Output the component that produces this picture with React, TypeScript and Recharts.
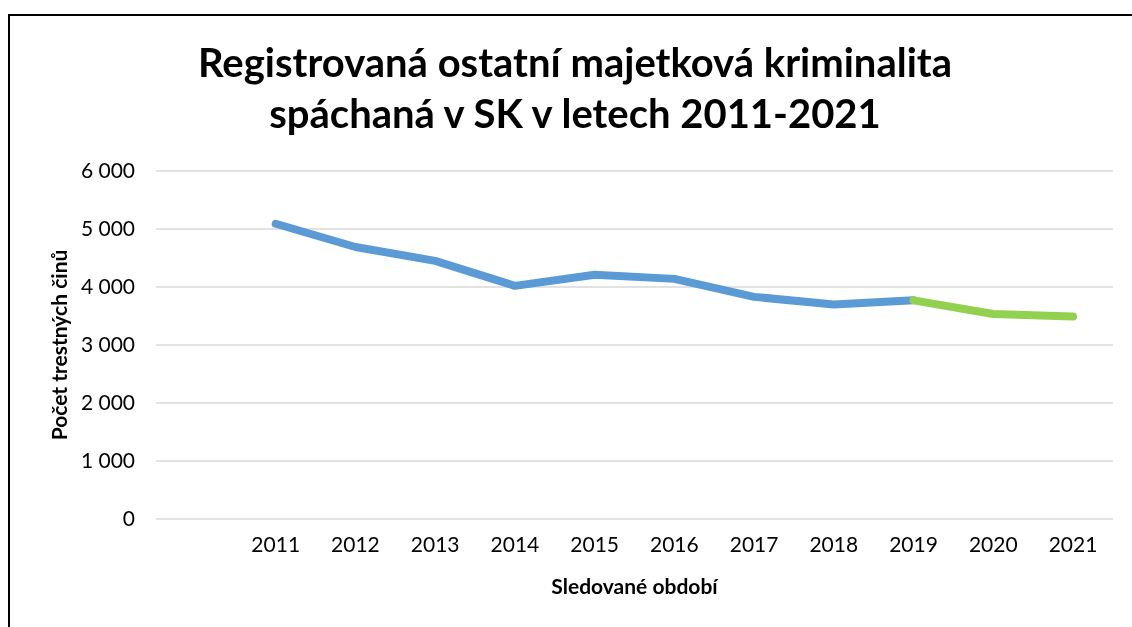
import React from 'react';
import { LineChart, Line, XAxis, YAxis, CartesianGrid } from 'recharts';

// first slot is an empty category, as in the original sheet
const years = ['', '2011', '2012', '2013', '2014', '2015', '2016', '2017', '2018', '2019', '2020', '2021'];
const registered = [null, 5090, 4690, 4450, 4020, 4210, 4140, 3830, 3700, 3770, null, null];
const recent = [null, null, null, null, null, null, null, null, null, 3770, 3535, 3490];
const yTicks = [0, 1000, 2000, 3000, 4000, 5000, 6000];

const FONT = 'Lato, "Open Sans", sans-serif';

const fmt = (v: number) => v.toString().replace(/\B(?=(\d{3})+(?!\d))/g, ' ');

const App: React.FC = () => {
    const data = years.map((y, i) => ({ year: y, registered: registered[i], recent: recent[i] }));

    return (
        <div>
            {/* frame - only top and left edge visible */}
            <div style={{ position: 'fixed', left: 8, top: 14, width: 1124, height: 613, borderTop: '2px solid #000', borderLeft: '2px solid #000', boxSizing: 'border-box' }} />
            <div style={{ position: 'fixed', left: 0, top: 0, width: 1132, height: 627, fontFamily: FONT }}>
                <div style={{ position: 'absolute', left: 0, top: 37, width: 1150, textAlign: 'center', fontSize: 40, fontWeight: 700, lineHeight: '51px', color: '#000' }}>
                    Registrovaná ostatní majetková kriminalita<br />spáchaná v SK v letech 2011-2021
                </div>
                <LineChart width={1132} height={627} data={data} margin={{ top: 171, right: 19, bottom: 68, left: 56 }}>
                    <CartesianGrid vertical={false} stroke="#d9d9d9" strokeWidth={1.5} />
                    <XAxis
                        dataKey="year"
                        axisLine={false}
                        tickLine={false}
                        tickMargin={12}
                        height={40}
                        padding={{ left: 40, right: 40 }}
                        interval={0}
                        tick={{ fill: '#000', fontSize: 21, fontFamily: FONT }}
                        label={{ value: 'Sledované období', position: 'bottom', offset: 20, fill: '#000', fontSize: 21, fontWeight: 700, fontFamily: FONT }}
                    />
                    <YAxis
                        width={100}
                        domain={[0, 6000]}
                        ticks={yTicks}
                        tickFormatter={fmt}
                        axisLine={false}
                        tickLine={false}
                        tickMargin={15}
                        tick={{ fill: '#000', fontSize: 21, fontFamily: FONT }}
                        label={{ value: 'Počet trestných činů', angle: -90, position: 'insideLeft', offset: 4, fill: '#000', fontSize: 21, fontWeight: 700, fontFamily: FONT, style: { textAnchor: 'middle' } }}
                    />
                    <Line type="linear" dataKey="registered" stroke="#5b9bd5" strokeWidth={8} strokeLinecap="round" strokeLinejoin="round" dot={false} isAnimationActive={false} />
                    <Line type="linear" dataKey="recent" stroke="#92d050" strokeWidth={8} strokeLinecap="round" strokeLinejoin="round" dot={false} isAnimationActive={false} />
                </LineChart>
            </div>
        </div>
    );
};

export default App;
